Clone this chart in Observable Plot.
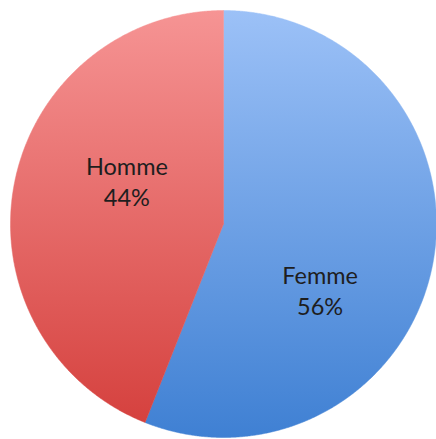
<!DOCTYPE html>
<html><head><meta charset="utf-8">
<script src="https://cdn.jsdelivr.net/npm/d3@7"></script>
<script src="https://cdn.jsdelivr.net/npm/@observablehq/plot@0.6"></script>
<style>body{margin:0;background:#fff}</style>
</head><body><div id="chart"></div>
<script>
const categories = ["Femme", "Homme"];
const shares = [56, 44];
const percentLabels = ["56%", "44%"];

const pie = d3.pie().sort(null).value(d => d)(shares);
const slices = [];
const labelData = [];
pie.forEach((p, i) => {
  const n = Math.max(2, Math.ceil((p.endAngle - p.startAngle) / 0.005));
  slices.push({cat: categories[i], x: 0, y: 0});
  for (let k = 0; k <= n; k++) {
    const a = p.startAngle + (p.endAngle - p.startAngle) * k / n;
    slices.push({cat: categories[i], x: Math.sin(a), y: Math.cos(a)});
  }
  slices.push({cat: categories[i], x: 0, y: 0});
  const m = (p.startAngle + p.endAngle) / 2;
  labelData.push({cat: categories[i], x: 0.5 * Math.sin(m), y: 0.5 * Math.cos(m), text: categories[i] + "\n" + percentLabels[i]});
});

const textStyle = {fontFamily: "Lato, 'Open Sans', sans-serif", fontSize: 23.5, lineHeight: 1.32, fill: "#1e1e1e", textAnchor: "middle", lineAnchor: "middle"};

const chart = Plot.plot({
  width: 436, height: 439,
  margin: 0,
  x: {domain: [-1, 1], range: [10, 436], axis: null},
  y: {domain: [-1, 1], range: [437, 10], axis: null},
  marks: [
    Plot.line(slices.filter(d => d.cat === "Femme"), {x: "x", y: "y", fill: "url(#gFemme)", stroke: "url(#gFemme)", strokeWidth: 0.5}),
    Plot.line(slices.filter(d => d.cat === "Homme"), {x: "x", y: "y", fill: "url(#gHomme)", stroke: "url(#gHomme)", strokeWidth: 0.5}),
    Plot.text(labelData.filter(d => d.cat === "Homme"), {x: "x", y: "y", text: "text", dx: 8, dy: -23, ...textStyle}),
    Plot.text(labelData.filter(d => d.cat === "Femme"), {x: "x", y: "y", text: "text", dx: -8, dy: 46, ...textStyle})
  ]
});

const yTop = chart.scale("y").apply(1), yBot = chart.scale("y").apply(-1);
const defs = d3.select(chart).insert("defs", ":first-child");
const grads = [["gFemme", "#9cc1f7", "#3f80d3"], ["gHomme", "#f69494", "#d43e3b"]];
grads.forEach(([id, c0, c1]) => {
  const g = defs.append("linearGradient").attr("id", id).attr("gradientUnits", "userSpaceOnUse")
    .attr("x1", 0).attr("x2", 0).attr("y1", yTop).attr("y2", yBot);
  g.append("stop").attr("offset", "0%").attr("stop-color", c0);
  g.append("stop").attr("offset", "100%").attr("stop-color", c1);
});
document.getElementById("chart").appendChild(chart);
</script>
</body></html>
